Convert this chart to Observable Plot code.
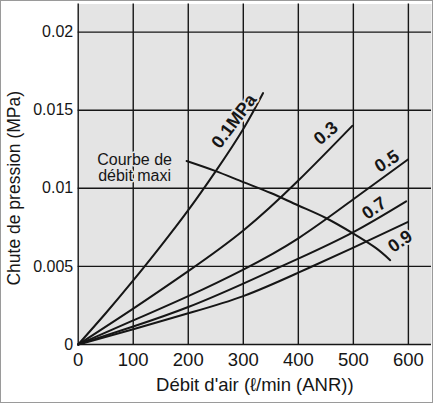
<!DOCTYPE html>
<html>
<head>
<meta charset="utf-8">
<script src="https://cdn.jsdelivr.net/npm/d3@7"></script>
<script src="https://cdn.jsdelivr.net/npm/@observablehq/plot@0.6"></script>
<style>
  html, body { margin: 0; padding: 0; background: #fff; }
  #frame { width: 433px; height: 403px; box-sizing: border-box; border: 1px solid #9a9a9a; overflow: hidden; }
  #frame svg { display: block; }
</style>
</head>
<body>
<div id="frame"></div>
<script>
// ---- data ----
const flow01 = [0, 50, 100, 150, 200, 250, 300, 336];
const drop01 = [0, 0.0020, 0.0041, 0.0063, 0.0086, 0.0111, 0.0138, 0.0161];

const flow03 = [0, 100, 200, 300, 400, 498];
const drop03 = [0, 0.0023, 0.0047, 0.0073, 0.0105, 0.0140];

const flow05 = [0, 100, 200, 300, 400, 500, 599];
const drop05 = [0, 0.00154, 0.0031, 0.0048, 0.0068, 0.0093, 0.01184];

const flow07 = [0, 100, 200, 300, 400, 500, 596];
const drop07 = [0, 0.00115, 0.0024, 0.0039, 0.0055, 0.0072, 0.00917];

const flow09 = [0, 100, 200, 300, 400, 500, 599];
const drop09 = [0, 0.00098, 0.0020, 0.0031, 0.0046, 0.0062, 0.00784];

const flowMax = [197, 250, 300, 350, 400, 450, 500, 540, 567];
const dropMax = [0.01175, 0.0111, 0.0104, 0.0097, 0.0089, 0.0081, 0.0071, 0.0062, 0.0054];

const curveNames = ["0.1MPa", "0.3", "0.5", "0.7", "0.9"];
const labelFlow = [283, 450, 561, 538, 585];
const labelDrop = [0.0143, 0.01353, 0.01173, 0.00872, 0.0066];
const labelAngle = [-53, -40, -33, -35, -35];

const maxLabel = "Courbe de\ndébit maxi";
const maxLabelFlow = 102.5;
const maxLabelDrop = 0.01128;

const xTicks = [0, 100, 200, 300, 400, 500, 600];
const xTickLabels = ["0", "100", "200", "300", "400", "500", "600"];
const yTicks = [0, 0.005, 0.01, 0.015, 0.02];
const yTickLabels = ["0", "0.005", "0.01", "0.015", "0.02"];

const xTitle = "Débit d'air (ℓ/min (ANR))";
const yTitle = "Chute de pression (MPa)";

// ---- build tables ----
const series = [
  [flow01, drop01], [flow03, drop03], [flow05, drop05], [flow07, drop07], [flow09, drop09]
];
const curves = series.flatMap(([f, p], i) => f.map((v, j) => ({name: curveNames[i], flow: v, drop: p[j]})));
const maxCurve = flowMax.map((v, j) => ({flow: v, drop: dropMax[j]}));
const labels = curveNames.map((n, i) => ({name: n, flow: labelFlow[i], drop: labelDrop[i], angle: labelAngle[i]}));

const ink = "#161616";
const bg = "#e4e4e4";
const font = "'Liberation Sans', Arial, Helvetica, sans-serif";

const chart = Plot.plot({
  width: 431,
  height: 401,
  marginLeft: 76.7,
  marginRight: 1,
  marginTop: 2.5,
  marginBottom: 58,
  style: {fontFamily: font, background: "#fff", color: ink},
  x: {domain: [0, 642]},
  y: {domain: [0, 0.0218]},
  marks: [
    Plot.frame({fill: bg, stroke: null}),
    Plot.ruleX(xTicks, {stroke: ink, strokeWidth: 1.4}),
    Plot.ruleY(yTicks, {stroke: ink, strokeWidth: 1.4}),
    Plot.line(curves, {x: "flow", y: "drop", z: "name", curve: "natural", stroke: ink, strokeWidth: 2}),
    Plot.line(maxCurve, {x: "flow", y: "drop", curve: "natural", stroke: ink, strokeWidth: 2}),
    ...labels.map(d => Plot.text([d], {
      x: "flow", y: "drop", text: "name", rotate: d.angle,
      fontSize: 18, fontWeight: "bold", fill: ink,
      stroke: bg, strokeWidth: 4
    })),
    Plot.text([{t: maxLabel, flow: maxLabelFlow, drop: maxLabelDrop}], {
      x: "flow", y: "drop", text: "t", fontSize: 16, lineHeight: 1.0, fill: ink,
      stroke: bg, strokeWidth: 3
    }),
    Plot.axisX(xTicks, {tickSize: 0, tickPadding: 8, fontSize: 18.5, tickFormat: (d, i) => xTickLabels[i], label: null}),
    Plot.axisY(yTicks, {tickSize: 0, tickPadding: 5, fontSize: 16, tickFormat: (d, i) => yTickLabels[i], label: null}),
    Plot.text([xTitle], {frameAnchor: "bottom", lineAnchor: "middle", textAnchor: "middle", dy: 41, fontSize: 18.5, fill: ink}),
    Plot.text([yTitle], {frameAnchor: "left", textAnchor: "middle", lineAnchor: "middle", dx: -64, dy: 14, rotate: -90, fontSize: 17.5, fill: ink})
  ]
});
document.getElementById("frame").appendChild(chart);
</script>
</body>
</html>
